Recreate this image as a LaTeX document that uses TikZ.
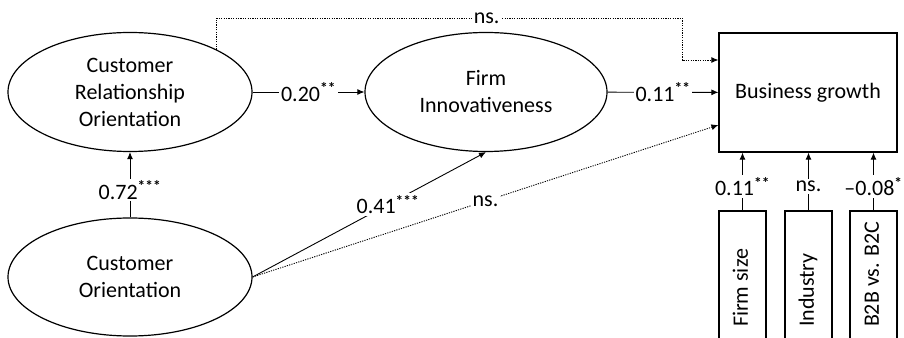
\documentclass[tikz,border=0pt]{standalone}
\usepackage{fontspec}
\setmainfont{Carlito}
\usepackage{graphicx}
\usepackage{tikz}
\usetikzlibrary{calc,arrows.meta,shapes.geometric}

\newcommand{\pstar}[1]{\textsuperscript{\textbf{#1}}}

\tikzset{
  latent/.style={ellipse, draw, line width=1.2pt, inner sep=0pt, align=center,
    minimum width=244pt, minimum height=119pt},
  outcome/.style={rectangle, draw, line width=1.2pt, inner sep=0pt,
    minimum width=178pt, minimum height=119pt},
  control/.style={rectangle, draw, line width=1.2pt, inner sep=0pt,
    minimum width=47pt, minimum height=132pt},
  effect/.style={line width=0.9pt, -{Latex[length=7pt,width=6pt]}},
  nseffect/.style={effect, dash pattern=on 1.2pt off 1.2pt},
  coef/.style={fill=white, inner sep=2pt}
}

\begin{document}
\begin{tikzpicture}[x=1pt, y=1pt, every node/.style={font=\fontsize{22}{27}\selectfont}]
\useasboundingbox (0,0) rectangle (904,337);
\clip (0,0) rectangle (904,337);

% Constructs
\node[latent] (cro) at (130,245) {Customer\\Relationship\\Orientation};
\node[latent, minimum width=242pt] (fi) at (486,245) {Firm\\Innovativeness};
\node[latent, minimum height=118pt] (co) at (130,60) {Customer\\Orientation};
\node[outcome] (bg) at (808,244.5) {Business growth};

% Controls
\node[control] (fs) at (742.5,60) {\rotatebox{90}{\makebox[100pt][l]{\strut Firm size}}};
\node[control] (ind) at (808.5,60) {\rotatebox{90}{\makebox[100pt][l]{\strut Industry}}};
\node[control] (b2b) at (873.5,60) {\rotatebox{90}{\makebox[100pt][l]{\strut B2B vs. B2C}}};

% Inputs on the left side of business growth
\coordinate (bgtop) at ($(bg.west)+(0,32.5)$);
\coordinate (bgbot) at ($(bg.west)+(0,-32.5)$);
\coordinate (nscorner) at (682,319);

% Significant paths
\draw[effect] (cro) -- node[coef] {0.20\pstar{**}} (fi);
\draw[effect] (fi) -- node[coef] {0.11\pstar{**}} (bg);
\draw[effect] (co) -- node[coef, pos=0.42] {0.72\pstar{***}} (cro);

% Non-significant paths
\draw[nseffect] (co.east) -- node[coef] {ns.} (bgbot);
\draw[nseffect] (cro.26) |- node[coef, pos=0.79] {ns.} (nscorner) |- (bgtop);

\draw[effect] (co.east) -- node[coef, pos=0.58] {0.41\pstar{***}} (fi.south);

% Control effects
\draw[effect] (fs) -- node[coef, pos=0.41] {0.11\pstar{**}} (fs |- bg.south);
\draw[effect] (ind) -- node[coef, pos=0.41] {ns.} (ind |- bg.south);
\draw[effect] (b2b) -- node[coef, pos=0.41] {--0.08\pstar{*}} (b2b |- bg.south);
\end{tikzpicture}
\end{document}
